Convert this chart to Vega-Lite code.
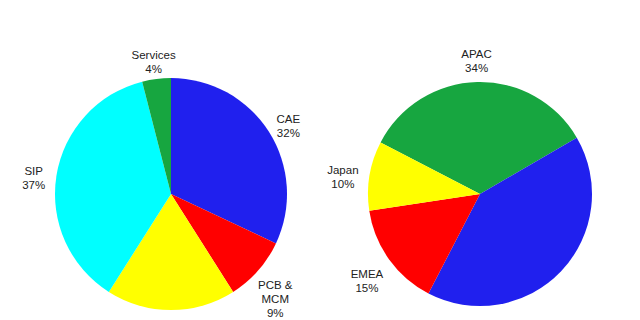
{
  "$schema": "https://vega.github.io/schema/vega-lite/v6.json",
  "background": "white",
  "padding": {"left": 5, "top": 49, "right": 5, "bottom": 4},
  "spacing": 0,
  "bounds": "flush",
  "resolve": {"scale": {"color": "independent", "theta": "independent"}},
  "config": {"view": {"stroke": null}, "text": {"font": "Liberation Sans"}},
  "datasets": {
    "product": [
      {"segment": "CAE", "share": 32, "ord": 1, "label": "CAE\n32%"},
      {"segment": "PCB & MCM", "share": 9, "ord": 2, "label": "PCB &\nMCM\n9%"},
      {"segment": "IC Design", "share": 18, "ord": 3, "label": ""},
      {"segment": "SIP", "share": 37, "ord": 4, "label": "SIP\n37%"},
      {"segment": "Services", "share": 4, "ord": 5, "label": "Services\n4%"}
    ],
    "region": [
      {"segment": "APAC", "share": 34, "ord": 1, "label": "APAC\n34%"},
      {"segment": "Americas", "share": 41, "ord": 2, "label": ""},
      {"segment": "EMEA", "share": 15, "ord": 3, "label": "EMEA\n15%"},
      {"segment": "Japan", "share": 10, "ord": 4, "label": "Japan\n10%"}
    ]
  },
  "hconcat": [
    {
      "width": 332,
      "height": 240,
      "data": {"name": "product"},
      "encoding": {
        "theta": {"field": "share", "type": "quantitative", "stack": true, "scale": {"range": [0, 6.2832]}},
        "order": {"field": "ord", "type": "quantitative"}
      },
      "layer": [
        {
          "mark": {"type": "arc", "radius": 116},
          "encoding": {
            "color": {
              "field": "segment", "type": "nominal", "legend": null,
              "scale": {"domain": ["CAE", "PCB & MCM", "IC Design", "SIP", "Services"],
                        "range": ["#2020EE", "#FF0000", "#FFFF00", "#00FFFF", "#17A640"]}
            }
          }
        },
        {
          "mark": {"type": "text", "radius": 139, "fontSize": 11.5, "lineBreak": "\n", "lineHeight": 14, "color": "#222222", "baseline": "middle"},
          "encoding": {"text": {"field": "label"}}
        }
      ]
    },
    {
      "width": 286,
      "height": 240,
      "data": {"name": "region"},
      "encoding": {
        "theta": {"field": "share", "type": "quantitative", "stack": true, "scale": {"range": [-1.0926, 5.1906]}},
        "order": {"field": "ord", "type": "quantitative"}
      },
      "layer": [
        {
          "mark": {"type": "arc", "radius": 112},
          "encoding": {
            "color": {
              "field": "segment", "type": "nominal", "legend": null,
              "scale": {"domain": ["APAC", "Americas", "EMEA", "Japan"],
                        "range": ["#17A640", "#2020EE", "#FF0000", "#FFFF00"]}
            }
          }
        },
        {
          "mark": {"type": "text", "radius": 139, "fontSize": 11.5, "lineBreak": "\n", "lineHeight": 14, "color": "#222222", "baseline": "middle"},
          "encoding": {"text": {"field": "label"}}
        }
      ]
    }
  ]
}
